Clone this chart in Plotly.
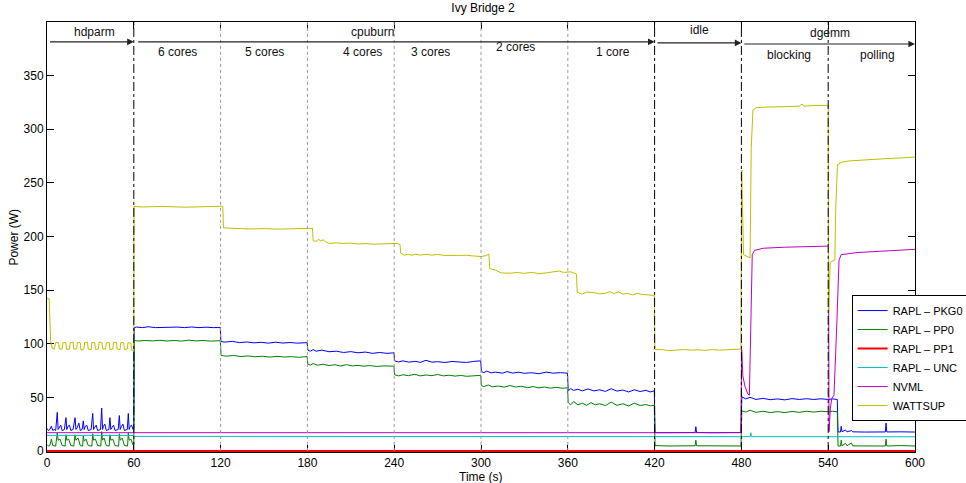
import plotly.graph_objects as go

# ---------------- data ----------------
title_text = "Ivy Bridge 2"
x_title = "Time (s)"
y_title = "Power (W)"
x_ticks = [0, 60, 120, 180, 240, 300, 360, 420, 480, 540, 600]
y_ticks = [0, 50, 100, 150, 200, 250, 300, 350]

# phases: name, start, end, label x, label y
phase_names = ["hdparm", "cpuburn", "idle", "dgemm"]
phase_start = [0, 60, 420, 480]
phase_end = [60, 420, 480, 600]
phase_label_x = [33, 225, 451, 541]
phase_label_y = [390.5, 390.5, 392.5, 389.5]
phase_arrow_y = [381.5, 381.5, 380.5, 379.5]
phase_arrow_x0 = [1, 62, 421, 481]

sub_names = ["6 cores", "5 cores", "4 cores", "3 cores", "2 cores", "1 core", "blocking", "polling"]
sub_label_x = [90, 150, 218, 265, 324, 391, 513, 574]
sub_label_y = [372, 372, 372, 372, 376.5, 372, 369.5, 369.5]

major_bounds = [60, 420, 480, 540]
minor_bounds = [120, 180, 240, 300, 360]

series_names = ["RAPL \u2013 PKG0", "RAPL \u2013 PP0", "RAPL \u2013 PP1", "RAPL \u2013 UNC", "NVML", "WATTSUP"]
series_colors = ["#0000ff", "#008000", "#ff0000", "#00bfbf", "#bf00bf", "#bfbf00"]

t_pkg = [0, 1, 2, 3, 4, 5, 6, 7.1, 7.7, 8.5, 9.5, 10.5, 12, 13.1, 13.7, 14.5, 15.5, 16.5, 18, 19.4, 20, 21, 22, 23,
         24.3, 25.1, 25.7, 26.5, 27.5, 28.5, 30.5, 31.6, 32.2, 33, 34, 35, 37, 37.8, 38.4, 39, 40, 41, 42.8, 43.5,
         44.1, 45, 46, 47, 49.2, 50, 50.6, 51.5, 52.5, 53.5, 55.5, 56.2, 56.8, 57.5, 58.5, 59.5, 60,
         60.3, 62, 66, 70, 75, 80, 85, 90, 95, 100, 105, 110, 115, 119.8,
         120.2, 123, 128, 133, 138, 143, 148, 153, 158, 163, 168, 173, 179.8,
         180.3, 182, 184, 186, 190, 195, 200, 205, 210, 215, 220, 225, 230, 235, 239.8,
         240.3, 243, 246, 250, 255, 258, 262, 266, 270, 275, 280, 285, 290, 295, 299.8,
         300.3, 302, 304, 307, 310, 315, 318, 322, 326, 330, 335, 340, 345, 350, 355, 359.8,
         360.3, 362, 364, 367, 370, 374, 378, 382, 386, 390, 394, 398, 402, 406, 410, 414, 417, 419.8,
         420.3, 430, 440, 448, 448.5, 449, 460, 470, 479.7,
         480.3, 483, 486, 490, 495, 500, 505, 510, 515, 520, 525, 530, 535, 540, 543, 546.3,
         546.8, 548.5, 549, 549.5, 552, 553, 556, 557, 565, 579.5, 580, 580.5, 590, 600]
v_pkg = [21, 19, 20, 23, 19, 20, 19, 36, 20, 22, 24, 19, 20, 31, 20, 23, 24, 19, 20, 31, 20, 22, 26, 19,
         20, 28, 20, 23, 24, 19, 20, 35, 20, 22, 24, 19, 20, 40, 20, 23, 25, 19, 20, 31,
         20, 22, 24, 19, 20, 33, 20, 23, 25, 19, 20, 35, 20, 23, 24, 20, 21,
         115, 115.5, 115, 115.8, 115, 115.3, 115, 115.5, 115, 115.6, 115, 115.4, 115, 115.2,
         102, 101.5, 102.2, 101, 101.6, 100.8, 101.3, 100.5, 101.4, 100.6, 101.1, 100.5, 101,
         94, 93, 94.5, 93, 94, 92.5, 93, 91.8, 92.6, 91.5, 92.2, 91, 91.8, 91, 91.5,
         84, 83, 84, 82.8, 83.5, 82.5, 84.5, 82.8, 83.2, 82.5, 83.4, 82.6, 82.5, 83.5, 84,
         74, 73, 74.5, 72.8, 73.5, 72.5, 74, 72.6, 73.4, 72.4, 72.9, 72, 73.5, 72.5, 73, 72.5,
         56, 58, 56.5, 57.5, 56, 57.8, 56, 57, 55.5, 58, 55.8, 56.8, 55, 57, 55.4, 56.5, 55, 56,
         17, 17.2, 17, 17.2, 22.6, 17.2, 17, 17.3, 17.2,
         50.5, 48.5, 50, 48, 49, 47.8, 48.5, 47.6, 48.8, 48, 48.7, 48, 48.6, 48, 48.5, 48,
         17.7, 17.7, 23, 18, 19.5, 17.8, 19, 17.8, 17.6, 17.7, 26, 17.7, 17.8, 17.6]

t_pp0 = [0, 1, 2, 3, 4, 6, 7.1, 7.7, 9, 10.5, 12.5, 13.1, 13.7, 15, 16.5, 18.5, 19.4, 20, 21.5, 23, 24.6, 25.1,
         25.7, 27, 28.5, 31, 31.6, 32.2, 33.5, 35, 37.2, 37.8, 38.4, 39.5, 41, 43, 43.5, 44.1, 45.5, 47, 49.5,
         50, 50.6, 52, 53.5, 55.7, 56.2, 56.8, 58, 59.5, 60,
         60.3, 63, 68, 73, 78, 83, 88, 93, 98, 103, 108, 113, 119.8,
         120.3, 124, 129, 134, 139, 144, 149, 154, 159, 164, 169, 174, 179.8,
         180.3, 182, 184, 187, 191, 195, 199, 203, 207, 211, 215, 219, 223, 228, 233, 239.8,
         240.3, 243, 246, 250, 254, 258, 262, 266, 270, 274, 278, 282, 286, 290, 295, 299.8,
         300.3, 302, 305, 308, 312, 316, 320, 324, 328, 332, 336, 340, 344, 348, 352, 356, 359.8,
         360.3, 362, 364, 367, 370, 373, 376, 379, 382, 386, 390, 394, 398, 402, 406, 410, 414, 417, 419.8,
         420.3, 430, 448, 448.5, 449, 460, 470, 479.7,
         480.3, 483, 486, 490, 495, 500, 505, 510, 515, 520, 525, 530, 535, 540, 543, 546.3,
         546.8, 548.5, 549, 549.5, 552, 553, 556, 557, 579.5, 580, 580.5, 590, 600]
v_pp0 = [6, 4.5, 5, 11, 5, 4.5, 17, 10, 11, 5, 4.5, 15, 10, 11, 5, 4.5, 15, 10, 12, 5, 4.5, 14,
         9, 11, 5, 4.5, 16, 10, 11, 5, 4.5, 18, 10, 12, 5, 4.5, 15, 10, 11, 5, 4.5,
         16, 10, 12, 5, 4.5, 17, 10, 11, 5.5, 6,
         103, 102.5, 103, 102.6, 103.2, 102.5, 103, 102.4, 103.3, 102.6, 103, 102.4, 102.8,
         89, 88.4, 89, 88, 88.6, 87.8, 88.3, 87.5, 88.2, 87.6, 87.9, 87.3, 88,
         81, 80, 81.5, 80, 80.8, 79.6, 80.4, 79.2, 80.5, 79.3, 79.8, 79, 79.6, 78.8, 79.3, 79,
         71, 70, 71, 70.2, 71.5, 70, 70.8, 70.2, 71.3, 70, 70.6, 69.8, 70.4, 69.6, 70.2, 70.5,
         61, 60, 61.5, 59.8, 60.5, 59.5, 61, 59.6, 60.3, 59, 60, 58.8, 59.6, 58.5, 59.3, 58.5, 58.8,
         45, 43, 46, 43, 44.5, 42.5, 45, 43, 44, 42.3, 45.5, 42.5, 44, 42, 44.5, 42.4, 43.2, 42, 42.5,
         5, 4.6, 4.8, 10, 4.8, 4.6, 4.8, 4.6,
         37.5, 36.2, 38, 36, 37, 35.8, 36.6, 35.8, 36.8, 36, 37, 36.2, 37, 36.5, 37, 36.5,
         4.6, 4.6, 10, 4.8, 7, 4.8, 7.5, 4.7, 4.6, 11, 4.6, 5, 4.6]

t_pp1 = [0, 600]
v_pp1 = [0, 0]

t_unc = [0, 60, 60.5, 200, 486, 486.5, 487, 600]
v_unc = [14.5, 14.5, 13.6, 13.5, 13.3, 17, 13.3, 13.2]

t_nvml = [0, 479.6, 480.2, 481, 482.5, 484.5, 485.5, 486.5, 487.5, 489, 495, 510, 540, 540.2, 540.6,
          541.5, 542.5, 544, 546, 547.5, 549, 560, 580, 600]
v_nvml = [17, 17, 95, 70, 60, 53, 52, 140, 183, 187, 189, 190, 191, 191, 18,
          40, 49, 52, 120, 178, 183, 185, 186.5, 188]

t_watt = [0, 1.5, 2.5, 3.5, 5, 6, 8, 8.5, 10.5, 11, 13, 13.5, 15.5, 16, 18, 18.5, 20.5, 21, 23, 23.5, 25.5,
          26, 28, 28.5, 30.5, 31, 33, 33.5, 35.5, 36, 38, 38.5, 40.5, 41, 43, 43.5, 45.5, 46, 48, 48.5, 50.5,
          51, 53, 53.5, 55.5, 56, 58, 58.5, 60,
          60.2, 65, 80, 95, 110, 121.5,
          122, 130, 140, 150, 160, 170, 180, 183.5,
          184, 186, 188, 189, 191, 192, 195, 200, 205, 210, 215, 220, 225, 230, 235, 240, 242, 244,
          244.5, 247, 250, 252, 255, 258, 262, 266, 270, 275, 280, 285, 290, 295, 300, 303, 305.5,
          306, 310, 314, 320, 325, 330, 335, 340, 345, 350, 354, 357, 362, 366,
          366.5, 370, 373, 378, 382, 386, 389, 392, 395, 398, 401, 405, 408, 411, 415, 419.8,
          420.2, 425, 430, 435, 440, 445, 450, 455, 460, 465, 470, 475, 479.7,
          480.2, 481.5, 486, 486.8, 488, 490, 495, 500, 505, 510, 515, 520, 522, 523, 530, 540,
          540.3, 541.4, 544.6, 545.2, 546.4, 550, 555, 560, 565, 570, 575, 580, 585, 590, 595, 600]
v_watt = [142, 142, 103, 96, 95, 101, 101, 95, 95, 101, 101, 94.5, 95, 101, 101.5, 95, 95, 101, 101, 94, 95,
          101, 101.5, 95, 94.5, 101, 101, 94.5, 95, 101.5, 101, 95, 95, 101, 101, 94.5, 95, 101, 101.5, 95, 94.5,
          101, 101, 94.5, 95, 101, 100.5, 94, 93.5,
          228, 227.5, 228, 227.3, 228, 228.2,
          208, 207.5, 207, 207.3, 206.8, 207.2, 207, 207.6,
          196, 195.5, 197.4, 195.8, 197, 195.5, 193.5, 194, 193.5, 193.8, 193, 193.4, 192.8, 193.2, 193, 194, 193.5, 192.5,
          184.5, 182.6, 183.3, 182.5, 183.5, 182.6, 183.4, 182.6, 183.2, 182.3, 182.5, 182.3, 182.4, 181.8, 181.3, 182, 183.5,
          170, 168.6, 166, 165.7, 166.4, 165.6, 166.5, 165.4, 166, 166.8, 167.8, 166.5, 167, 165,
          148, 146.2, 148.2, 147.6, 146.5, 147, 148.5, 146.8, 148.3, 146.2, 146.8, 145.5, 147, 146, 145.5, 145,
          94.5, 94.5, 93.5, 94.3, 94.5, 94, 94.3, 93.8, 94.5, 94, 94.4, 94.8, 95,
          262, 183, 180, 283, 318, 320, 320.5, 320.8, 320.5, 321.2, 321, 321.5, 323.5, 321.5, 322, 322.3,
          130, 176, 178, 225, 267, 269.5, 270.5, 271, 271.5, 271.8, 272.5, 272.8, 273, 273.2, 273.6, 274]

series_t = [t_pkg, t_pp0, t_pp1, t_unc, t_nvml, t_watt]
series_v = [v_pkg, v_pp0, v_pp1, v_unc, v_nvml, v_watt]

# ---------------- figure ----------------
FONT = "Liberation Sans, Arial, Helvetica, sans-serif"
fig = go.Figure()
for name, col, tt, vv in zip(series_names, series_colors, series_t, series_v):
    fig.add_trace(go.Scatter(x=tt, y=vv, mode="lines", name=name,
                             line=dict(color=col, width=2 if name.endswith("PP1") else 1)))

shapes = []
for b in minor_bounds:
    shapes.append(dict(type="line", xref="x", yref="y", x0=b, x1=b, y0=0, y1=400,
                       line=dict(color="#9a9a9a", width=1, dash="dot"), layer="above"))
for b in major_bounds:
    shapes.append(dict(type="line", xref="x", yref="y", x0=b, x1=b, y0=0, y1=400,
                       line=dict(color="black", width=1, dash="dashdot"), layer="above"))

annotations = []
for name, x0, x1, lx, ly, ay in zip(phase_names, phase_arrow_x0, phase_end, phase_label_x, phase_label_y, phase_arrow_y):
    annotations.append(dict(x=x1, y=ay, ax=x0, ay=ay, xref="x", yref="y", axref="x", ayref="y",
                            text="", showarrow=True, arrowhead=2, arrowsize=1.2, arrowwidth=1.1,
                            arrowcolor="#222222"))
    annotations.append(dict(x=lx, y=ly, xref="x", yref="y", text=name, showarrow=False,
                            font=dict(family=FONT, size=12, color="#111111")))
for name, lx, ly in zip(sub_names, sub_label_x, sub_label_y):
    annotations.append(dict(x=lx, y=ly, xref="x", yref="y", text=name, showarrow=False,
                            font=dict(family=FONT, size=12, color="#111111")))
# axis titles
annotations.append(dict(x=0.5, y=-0.058, xref="paper", yref="paper", text=x_title, showarrow=False,
                        xanchor="center", yanchor="middle", font=dict(family=FONT, size=12, color="black")))
annotations.append(dict(x=-0.0385, y=0.5, xref="paper", yref="paper", text=y_title, showarrow=False,
                        textangle=-90, xanchor="center", yanchor="middle",
                        font=dict(family=FONT, size=12, color="black")))

fig.update_layout(
    width=966, height=483,
    margin=dict(l=47, r=51, t=22, b=31, autoexpand=False),
    paper_bgcolor="white", plot_bgcolor="white",
    font=dict(family=FONT, size=12, color="black"),
    title=dict(text=title_text, x=0.5, xanchor="center", y=0.993, yanchor="top",
               font=dict(family=FONT, size=12, color="black")),
    showlegend=True,
    legend=dict(x=0.927, y=0.365, xanchor="left", yanchor="top", bgcolor="white",
                bordercolor="black", borderwidth=1, font=dict(family=FONT, size=11, color="black"),
                itemwidth=30, tracegroupgap=0),
    shapes=shapes, annotations=annotations,
)
fig.update_xaxes(range=[0, 600], tickvals=x_ticks, ticks="inside", ticklen=7, tickcolor="black",
                 showline=True, linecolor="black", linewidth=1, mirror="ticks", showgrid=False, zeroline=False,
                 layer="below traces",
                 tickfont=dict(family=FONT, size=12, color="black"))
fig.update_yaxes(range=[-1, 400], tickvals=y_ticks, ticks="inside", ticklen=7, tickcolor="black",
                 showline=True, linecolor="black", linewidth=1, mirror="ticks", showgrid=False, zeroline=False,
                 layer="below traces",
                 tickfont=dict(family=FONT, size=12, color="black"))

fig.write_html("out.html", config={"displayModeBar": False},
               post_script="document.body.style.margin='0';document.body.style.overflow='hidden';")
